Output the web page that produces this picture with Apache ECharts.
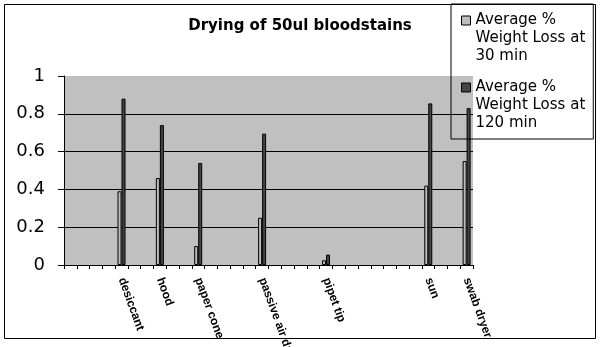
<!DOCTYPE html>
<html>
<head>
<meta charset="utf-8">
<script src="https://cdn.jsdelivr.net/npm/echarts@6/dist/echarts.min.js"></script>
<style>
html,body{margin:0;padding:0;background:#fff;}
#chart{width:600px;height:347px;}
</style>
</head>
<body>
<div id="chart"></div>
<script>
var titleText = 'Drying of 50ul bloodstains';
var seriesNames = ['Average % Weight Loss at 30 min', 'Average % Weight Loss at 120 min'];
var legendLines = {
  'Average % Weight Loss at 30 min': 'Average %\nWeight Loss at\n30 min',
  'Average % Weight Loss at 120 min': 'Average %\nWeight Loss at\n120 min'
};
var categories = [
  '', '', '', '', 'desiccant', '', '', 'hood', '', '', 'paper cone', '', '', '', '', 'passive air dryer',
  '', '', '', '', 'pipet tip', '', '', '', '', '', '', '', 'sun', '', '', 'swab dryer'
];
var loss30 = [
  null, null, null, null, 0.39, null, null, 0.46, null, null, 0.10, null, null, null, null, 0.25,
  null, null, null, null, 0.025, null, null, null, null, null, null, null, 0.42, null, null, 0.55
];
var loss120 = [
  null, null, null, null, 0.88, null, null, 0.74, null, null, 0.54, null, null, null, null, 0.695,
  null, null, null, null, 0.055, null, null, null, null, null, null, null, 0.855, null, null, 0.83
];
var yTicks = { min: 0, max: 1, interval: 0.2 };

var FONT = 'Liberation Sans, Arial, sans-serif';
var WIDE = 'DejaVu Sans, sans-serif';
var chart = echarts.init(document.getElementById('chart'), null, { renderer: 'canvas' });
chart.setOption({
  animation: false,
  backgroundColor: '#fff',
  title: {
    text: titleText,
    left: 'center',
    top: 14,
    textStyle: { fontFamily: WIDE, fontSize: 15, fontWeight: 'bold', color: '#000' }
  },
  legend: {
    orient: 'vertical',
    left: 451,
    top: 4,
    padding: [7, 8, 6, 10],
    borderColor: '#000',
    borderWidth: 1,
    itemGap: 12,
    itemWidth: 9,
    itemHeight: 54,
    icon: 'path://M0,4.5L9,4.5L9,13.5L0,13.5Z M0,0 M9,54',
    itemStyle: { borderColor: '#000', borderWidth: 1 },
    selectedMode: false,
    formatter: function (name) { return legendLines[name] || name; },
    textStyle: { fontFamily: WIDE, fontSize: 15, lineHeight: 18, color: '#000' },
    data: seriesNames
  },
  grid: {
    left: 64, right: 127, top: 76, bottom: 82,
    containLabel: false, outerBoundsMode: 'none',
    show: true, backgroundColor: '#c0c0c0', borderWidth: 0
  },
  xAxis: {
    type: 'category',
    data: categories,
    boundaryGap: true,
    axisLine: { lineStyle: { color: '#000', width: 1 } },
    axisTick: { show: true, interval: 0, length: 4, lineStyle: { color: '#000' } },
    axisLabel: {
      interval: 0, rotate: -70, margin: 13,
      fontFamily: FONT, fontSize: 12, fontWeight: 'bold', color: '#000'
    },
    splitLine: { show: false }
  },
  yAxis: {
    type: 'value',
    min: yTicks.min, max: yTicks.max, interval: yTicks.interval,
    axisLine: { show: true, lineStyle: { color: '#000', width: 1 } },
    axisTick: { show: true, length: 6, lineStyle: { color: '#000' } },
    axisLabel: { fontFamily: WIDE, fontSize: 18, color: '#000', margin: 19 },
    splitLine: { show: true, showMaxLine: false, lineStyle: { color: '#000', width: 1 } }
  },
  series: [
    {
      name: seriesNames[0], type: 'bar', data: loss30,
      barWidth: 4, barGap: '0%',
      itemStyle: { color: '#bdbdbd', borderColor: '#000', borderWidth: 1 }
    },
    {
      name: seriesNames[1], type: 'bar', data: loss120,
      barWidth: 4, barGap: '0%',
      itemStyle: { color: '#454545', borderColor: '#000', borderWidth: 1 }
    }
  ],
  graphic: [
    {
      type: 'rect', z: 100, silent: true,
      shape: { x: 4.5, y: 4.5, width: 591, height: 334 },
      style: { fill: 'none', stroke: '#000', lineWidth: 1 }
    }
  ]
});
</script>
</body>
</html>
